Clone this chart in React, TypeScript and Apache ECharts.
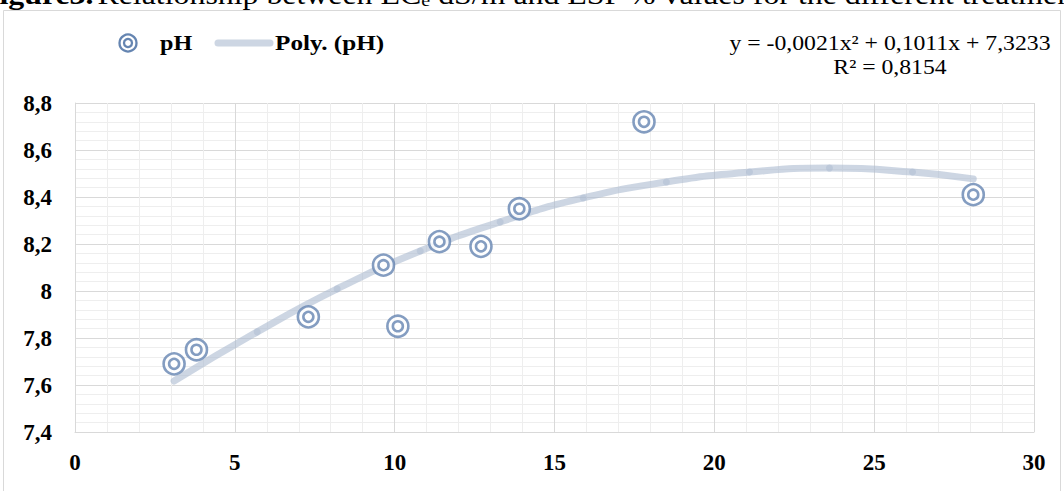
import React, { useEffect, useRef } from "react";
import * as echarts from "echarts";

const phX = [3.1, 3.8, 7.3, 9.65, 10.1, 11.4, 12.7, 13.9, 17.8, 28.1];
const phY = [7.69, 7.75, 7.89, 8.11, 7.85, 8.21, 8.19, 8.35, 8.72, 8.41];

const trendX = [3.1, 5.7, 8.2, 10.8, 13.3, 15.9, 18.5, 21.1, 23.6, 26.2, 28.1];
const trendY = [7.617, 7.826, 8.009, 8.17, 8.294, 8.396, 8.464, 8.506, 8.523, 8.506, 8.477];

const xTicks = { min: 0, max: 30, interval: 5 };
const yTicks = { min: 7.4, max: 8.8, interval: 0.2 };

const equationText = "y = -0,0021x² + 0,1011x + 7,3233";
const r2Text = "R² = 0,8154";
const seriesName = "pH";
const trendName = "Poly. (pH)";
const titleBold = "Figure3.";
const titleMain = "Relationship between EC";
const titleSub = "e";
const titleRest = " dS/m and ESP % values for the different treatments";

const SERIF = "'Liberation Serif', 'DejaVu Serif', serif";
const MARK = "#6585b1";
const TREND = "rgba(172,187,208,0.6)";

export default function App() {
  const ref = useRef<HTMLDivElement>(null);
  useEffect(() => {
    if (!ref.current) return;
    const chart = echarts.init(ref.current, undefined, { renderer: "svg" });
    const pts = phX.map((x, i) => [x, phY[i]]);
    const tr = trendX.map((x, i) => [x, trendY[i]]);
    const fmt = (v: number) => {
      const r = Math.round(v * 10) / 10;
      return String(r).replace(".", ",");
    };
    const axisLabel = {
      fontFamily: SERIF,
      fontWeight: "bold",
      fontSize: 23,
      color: "#000",
      formatter: fmt,
    };
    chart.setOption({
      animation: false,
      backgroundColor: "#fff",
      grid: { left: 75, right: 30, top: 103, bottom: 59, containLabel: false },
      xAxis: {
        type: "value",
        min: xTicks.min,
        max: xTicks.max,
        interval: xTicks.interval,
        axisLine: { show: true, lineStyle: { color: "#d9d9d9", width: 1 } },
        axisTick: { show: false },
        minorTick: { show: false, splitNumber: 5 },
        splitLine: { show: true, lineStyle: { color: "#d9d9d9", width: 1 } },
        minorSplitLine: { show: true, lineStyle: { color: "#eeeeee", width: 1 } },
        axisLabel: { ...axisLabel, margin: 19 },
      },
      yAxis: {
        type: "value",
        min: yTicks.min,
        max: yTicks.max,
        interval: yTicks.interval,
        axisLine: { show: true, lineStyle: { color: "#d9d9d9", width: 1 } },
        axisTick: { show: false },
        minorTick: { show: false, splitNumber: 5 },
        splitLine: { show: true, lineStyle: { color: "#d9d9d9", width: 1 } },
        minorSplitLine: { show: true, lineStyle: { color: "#eeeeee", width: 1 } },
        axisLabel: { ...axisLabel, margin: 23 },
      },
      series: [
        {
          name: trendName,
          type: "line",
          data: tr,
          smooth: true,
          symbol: "none",
          lineStyle: { color: TREND, width: 7, cap: "round" },
          z: 2,
        },
        {
          name: trendName + " joints",
          type: "scatter",
          data: tr.slice(1, tr.length - 1),
          symbol: "circle",
          symbolSize: 7,
          itemStyle: { color: TREND },
          z: 3,
        },
        {
          name: seriesName,
          type: "scatter",
          data: pts,
          symbol: "circle",
          symbolSize: 21,
          itemStyle: { color: "#fff", borderColor: MARK, borderWidth: 2.6 },
          z: 4,
        },
        {
          name: seriesName + " inner",
          type: "scatter",
          data: pts,
          symbol: "circle",
          symbolSize: 10,
          itemStyle: { color: "#fff", borderColor: MARK, borderWidth: 2.6 },
          z: 5,
        },
      ],
      graphic: [
        {
          type: "rect",
          shape: { x: 3.5, y: 10.5, width: 1057, height: 500 },
          style: { fill: "none", stroke: "#d9d9d9", lineWidth: 1 },
          silent: true,
        },
        {
          type: "text",
          x: -20,
          y: -5,
          scaleX: 1.18,
          style: {
            text: `{b|${titleBold}} {n|${titleMain}}{s|${titleSub}}{n|${titleRest}}`,
            verticalAlign: "middle",
            rich: {
              b: { fontFamily: SERIF, fontWeight: "bold", fontSize: 27, fill: "#000" },
              n: { fontFamily: SERIF, fontSize: 27, fill: "#000" },
              s: { fontFamily: SERIF, fontSize: 17, fill: "#000", verticalAlign: "bottom" },
            },
          },
        },
        {
          type: "circle",
          shape: { cx: 128, cy: 43, r: 8.5 },
          style: { fill: "#fff", stroke: MARK, lineWidth: 2.3 },
        },
        {
          type: "circle",
          shape: { cx: 128, cy: 43, r: 4 },
          style: { fill: "#fff", stroke: MARK, lineWidth: 2.3 },
        },
        {
          type: "text",
          x: 160,
          y: 43,
          scaleX: 1.15,
          style: {
            text: seriesName,
            fontFamily: SERIF,
            fontWeight: "bold",
            fontSize: 21,
            fill: "#000",
            verticalAlign: "middle",
          },
        },
        {
          type: "line",
          shape: { x1: 218, y1: 43, x2: 270, y2: 43 },
          style: { stroke: TREND, lineWidth: 7, lineCap: "round" },
        },
        {
          type: "text",
          x: 275,
          y: 43,
          scaleX: 1.2,
          style: {
            text: trendName,
            fontFamily: SERIF,
            fontWeight: "bold",
            fontSize: 21,
            fill: "#000",
            verticalAlign: "middle",
          },
        },
        {
          type: "text",
          x: 890,
          y: 43,
          scaleX: 1.13,
          style: {
            text: equationText,
            fontFamily: SERIF,
            fontSize: 21,
            fill: "#000",
            align: "center",
            verticalAlign: "middle",
          },
        },
        {
          type: "text",
          x: 890,
          y: 67,
          scaleX: 1.13,
          style: {
            text: r2Text,
            fontFamily: SERIF,
            fontSize: 21,
            fill: "#000",
            align: "center",
            verticalAlign: "middle",
          },
        },
      ],
    });
    return () => chart.dispose();
  }, []);
  return (
    <div
      ref={ref}
      style={{ position: "absolute", left: 0, top: 0, width: 1064, height: 491 }}
    />
  );
}
